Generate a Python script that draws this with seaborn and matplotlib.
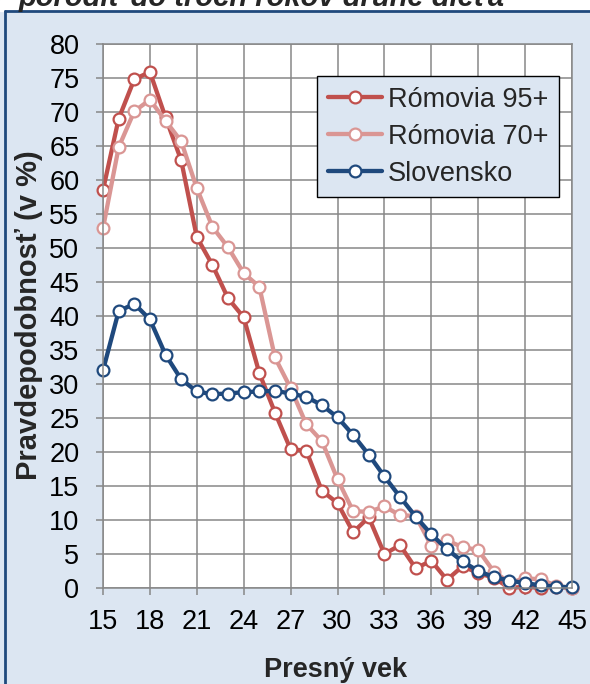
import matplotlib

matplotlib.use("Agg")
import matplotlib.pyplot as plt
from matplotlib.lines import Line2D
from matplotlib.patches import Rectangle
import pandas as pd
import seaborn as sns

# vek a pravdepodobnosti (v %) odcitane z povodneho grafu
vek = list(range(15, 46))
romovia_95 = [58.5, 69.0, 74.8, 75.9, 69.2, 62.9, 51.6, 47.5, 42.6, 39.8, 31.6,
              25.8, 20.4, 20.2, 14.3, 12.5, 8.2, 10.4, 5.0, 6.3, 2.9, 4.0,
              1.2, 3.2, 2.2, 1.5, 0.0, 0.2, 0.0, 0.2, 0.0]
romovia_70 = [52.9, 64.8, 70.1, 71.8, 68.7, 65.7, 58.8, 53.1, 50.1, 46.3, 44.3,
              33.9, 29.4, 24.1, 21.6, 16.0, 11.3, 11.2, 12.0, 10.7, 10.6, 6.2,
              7.0, 6.0, 5.6, 2.4, 0.8, 1.4, 1.3, 0.3, 0.0]
slovensko = [32.0, 40.7, 41.8, 39.5, 34.3, 30.7, 28.9, 28.5, 28.6, 28.8, 28.9,
             29.0, 28.6, 28.1, 26.9, 25.1, 22.5, 19.6, 16.4, 13.4, 10.5, 7.9,
             5.7, 3.9, 2.5, 1.6, 1.1, 0.7, 0.4, 0.2, 0.1]
serie = ["Rómovia 95+", "Rómovia 70+", "Slovensko"]
x_ticky = list(range(15, 46, 3))
y_ticky = list(range(0, 81, 5))

CERV, RUZ, MODR = "#C0504D", "#DA9694", "#1F497D"
POZADIE = "#DCE6F2"
MRIEZKA = "#878787"
PISMO = 19.5

sns.set_theme(style="whitegrid")
plt.rcParams["font.family"] = ["Liberation Sans", "DejaVu Sans"]

df = pd.DataFrame({"vek": vek, serie[0]: romovia_95, serie[1]: romovia_70, serie[2]: slovensko})

W, H = 590, 684
fig = plt.figure(figsize=(W / 100, H / 100), dpi=100, facecolor=POZADIE)
ax = fig.add_axes([103 / W, 1 - 588 / H, (572 - 103) / W, (588 - 44) / H])
ax.set_facecolor("white")

for meno, col in zip(serie, [CERV, RUZ, MODR]):
    sns.lineplot(data=df, x="vek", y=meno, ax=ax, color=col, lw=3.1, marker="o",
                 ms=8.5, mfc="white", mec=col, mew=1.6, label=meno, clip_on=False)

ax.set_xlim(15, 45)
ax.set_ylim(0, 80)
ax.set_xticks(x_ticky)
ax.set_yticks(y_ticky)
ax.grid(True, color=MRIEZKA, lw=1.1)
for s in ax.spines.values():
    s.set_color(MRIEZKA)
    s.set_linewidth(1.1)
ax.tick_params(axis="both", length=5, width=1.1, color=MRIEZKA, labelsize=PISMO,
               labelcolor="black", direction="out")
ax.tick_params(axis="x", pad=10, bottom=True)
ax.tick_params(axis="y", pad=12, left=True)
ax.set_xlabel("Presný vek", fontsize=PISMO, weight="bold")
ax.set_ylabel("Pravdepodobnosť (v %)", fontsize=21, weight="bold")
ax.xaxis.set_label_coords(0.5 - 2 / 469, (588 - 657) / 544)
ax.yaxis.set_label_coords((43 - 103) / 469, (588 - 315) / 544)

leg = ax.legend(loc="upper right", bbox_to_anchor=(1 - 13 / 469, 1 - 32 / 544),
                fontsize=PISMO, frameon=True, fancybox=False, facecolor=POZADIE,
                edgecolor="black", framealpha=1, handlelength=2.0,
                handletextpad=0.2, borderpad=0.4, labelspacing=0.4,
                borderaxespad=0)
leg.get_frame().set_linewidth(1.0)

# orezany nadpis a ramcek snimky
fig.add_artist(Rectangle((0, 1 - 11 / H), 1, 11 / H, transform=fig.transFigure,
                         color="white", zorder=0))
fig.text(19 / W, 1 - 6 / H, "porodiť do troch rokov druhé dieťa", fontsize=21,
         weight="bold", style="italic", va="baseline", ha="left")
fig.add_artist(Line2D([5 / W, 1], [1 - 11 / H, 1 - 11 / H], color=MODR, lw=2,
                      transform=fig.transFigure))
fig.add_artist(Line2D([5 / W, 5 / W], [0, 1 - 11 / H], color=MODR, lw=2,
                      transform=fig.transFigure))

fig.savefig("out.png", dpi=100, facecolor=fig.get_facecolor())
